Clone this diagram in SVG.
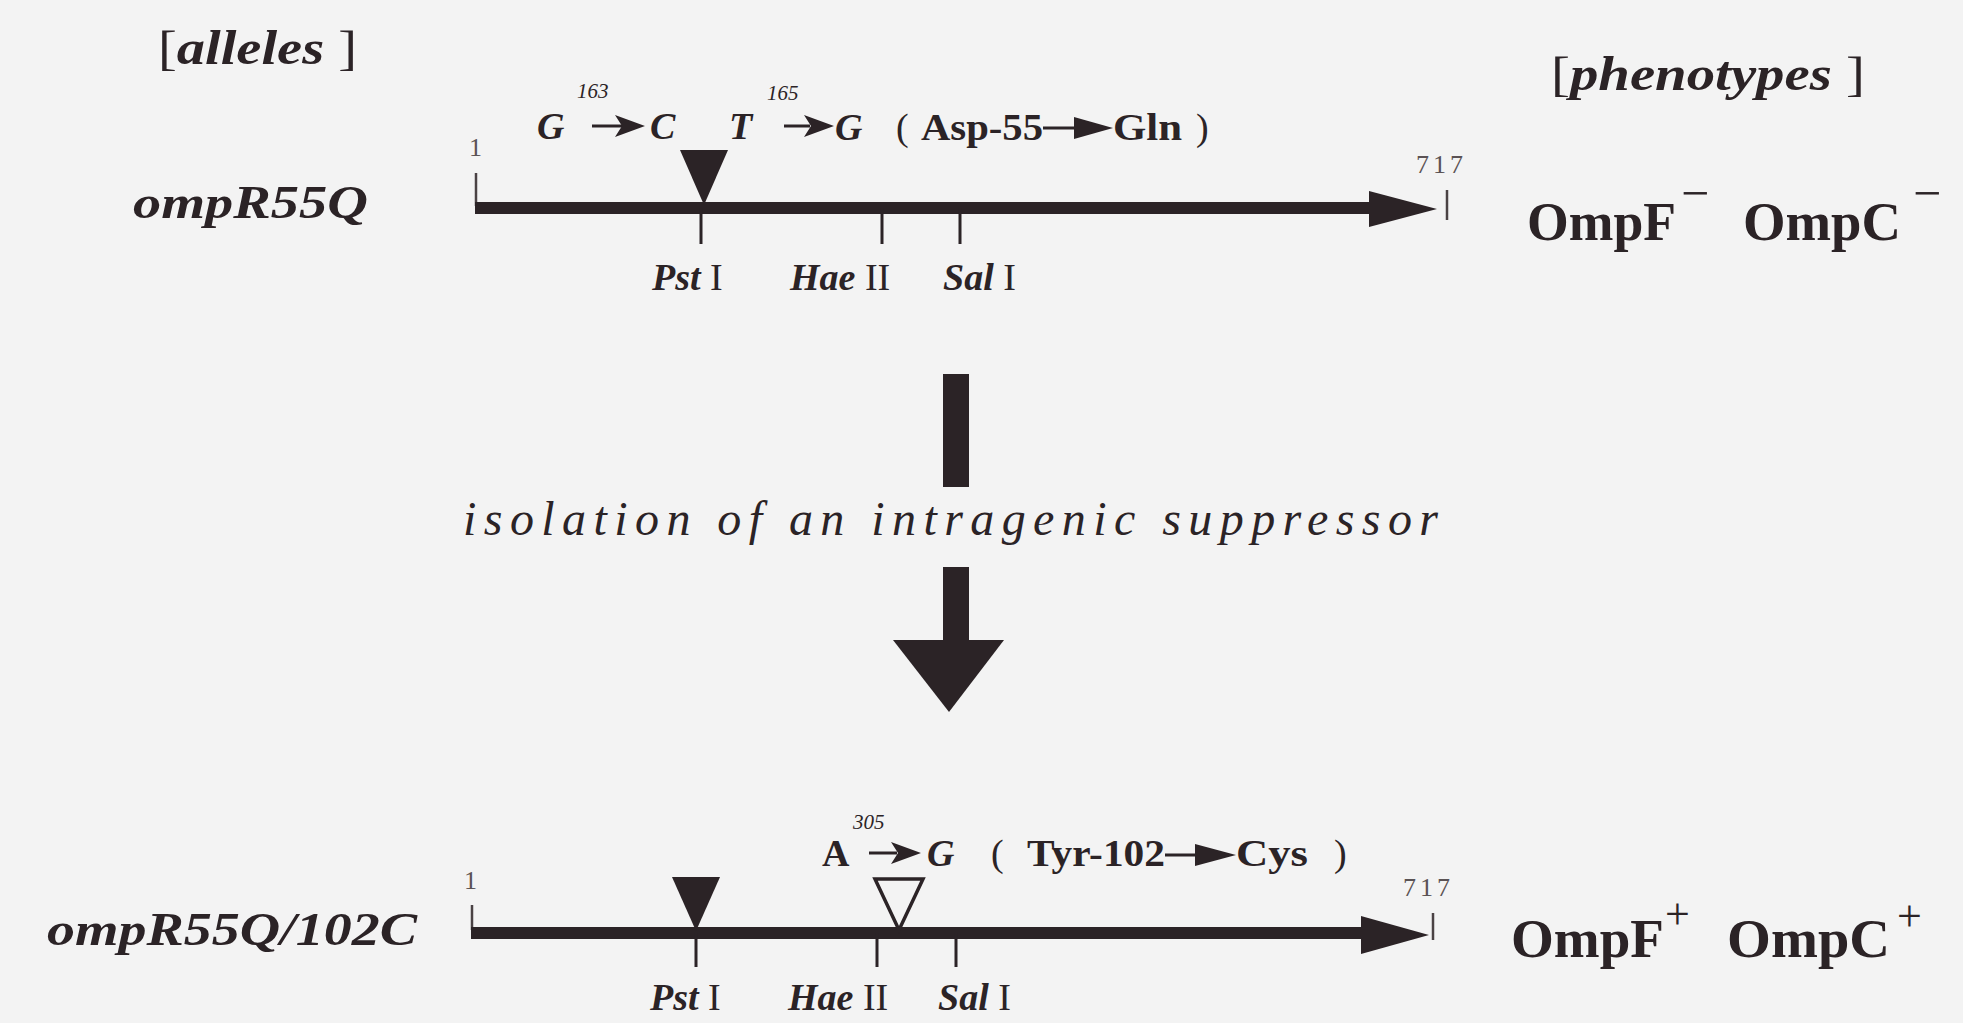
<svg xmlns="http://www.w3.org/2000/svg" width="1963" height="1023" viewBox="0 0 1963 1023">
<defs>
<style>
.bg{fill:#f3f3f3}
.ink{fill:#2b2326}
.ser{font-family:"Liberation Serif","Times New Roman",serif;fill:#2b2326}
.it{font-style:italic}
.b{font-weight:bold}
.num{font-family:"Liberation Serif",serif;font-size:26px;fill:#5a5254;letter-spacing:4px}
.sup{font-family:"Liberation Serif",serif;font-style:italic;font-size:21px;fill:#2b2326}
.mut{font-size:38px}
.site{font-size:38px}
.ph{font-size:55px;font-weight:bold}
.tick{stroke:#2b2326;stroke-width:3;fill:none}
.thin{stroke:#4a4244;stroke-width:2.5;fill:none}
</style>
</defs>
<rect class="bg" x="0" y="0" width="1963" height="1023"/>

<g id="headers">
<text class="ser" x="158" y="64" font-size="48" textLength="199" lengthAdjust="spacingAndGlyphs">[<tspan class="it b">alleles</tspan> ]</text>
<text class="ser" x="1551" y="90" font-size="48" textLength="314" lengthAdjust="spacingAndGlyphs">[<tspan class="it b">phenotypes</tspan> ]</text>
</g>

<g id="allele1">
<text class="ser it b" x="133" y="218" font-size="46" textLength="235" lengthAdjust="spacingAndGlyphs">ompR55Q</text>
<text class="num" x="469" y="156">1</text>
<line class="thin" x1="476" y1="173" x2="476" y2="206"/>
<rect class="ink" x="475" y="202" width="896" height="12"/>
<polygon class="ink" points="1369,191 1437,209 1369,227"/>
<line class="thin" x1="1447" y1="190" x2="1447" y2="220"/>
<text class="num" x="1416" y="173">717</text>
<polygon class="ink" points="680,150 728,150 704,205"/>
<line class="tick" x1="701" y1="208" x2="701" y2="244"/>
<line class="tick" x1="882" y1="208" x2="882" y2="244"/>
<line class="tick" x1="960" y1="208" x2="960" y2="244"/>
<text class="ser site" y="290"><tspan x="652" class="it b">Pst</tspan><tspan> I</tspan></text>
<text class="ser site" y="290"><tspan x="790" class="it b">Hae</tspan><tspan> II</tspan></text>
<text class="ser site" y="290"><tspan x="943" class="it b">Sal</tspan><tspan> I</tspan></text>
<text class="ser mut it b" x="537" y="139">G</text>
<text class="sup" x="577" y="98">163</text>
<line class="tick" x1="592" y1="126" x2="622" y2="126"/>
<polygon class="ink" points="615,115 645,126 615,137 622,126"/>
<text class="ser mut it b" x="650" y="139">C</text>
<text class="ser mut it b" x="729" y="139">T</text>
<text class="sup" x="767" y="100">165</text>
<line class="tick" x1="784" y1="126" x2="810" y2="126"/>
<polygon class="ink" points="804,115 834,126 804,137 811,126"/>
<text class="ser mut it b" x="835" y="140">G</text>
<text class="ser mut" x="896" y="140">(</text>
<text class="ser mut b" x="921" y="140" textLength="122" lengthAdjust="spacingAndGlyphs">Asp-55</text>
<line class="tick" x1="1043" y1="128" x2="1085" y2="128"/>
<polygon class="ink" points="1074,117 1113,128 1074,139"/>
<text class="ser mut b" x="1113" y="140" textLength="69" lengthAdjust="spacingAndGlyphs">Gln</text>
<text class="ser mut" x="1196" y="140">)</text>
<text class="ser ph" x="1527" y="240" textLength="149" lengthAdjust="spacingAndGlyphs">OmpF</text>
<text class="ser" x="1681" y="210" font-size="50">−</text>
<text class="ser ph" x="1743" y="240" textLength="158" lengthAdjust="spacingAndGlyphs">OmpC</text>
<text class="ser" x="1913" y="210" font-size="50">−</text>
</g>

<g id="connectors">
<rect class="ink" x="943" y="374" width="26" height="113"/>
<rect class="ink" x="943" y="567" width="26" height="78"/>
<polygon class="ink" points="893,640 1004,640 949,712"/>
</g>
<g id="step-label">
<text class="ser it" x="463" y="535" font-size="48" textLength="975" lengthAdjust="spacing">isolation of an intragenic suppressor</text>
</g>

<g id="allele2">
<text class="ser it b" x="47" y="945" font-size="46" textLength="370" lengthAdjust="spacingAndGlyphs">ompR55Q/102C</text>
<text class="num" x="464" y="889">1</text>
<line class="thin" x1="472" y1="905" x2="472" y2="930"/>
<rect class="ink" x="471" y="927" width="892" height="12"/>
<polygon class="ink" points="1361,916 1429,935 1361,954"/>
<line class="thin" x1="1433" y1="913" x2="1433" y2="940"/>
<text class="num" x="1403" y="896">717</text>
<polygon class="ink" points="672,877 720,877 696,931"/>
<polygon points="875,879 923,879 899,930" fill="none" stroke="#2b2326" stroke-width="3.5"/>
<line class="tick" x1="696" y1="933" x2="696" y2="967"/>
<line class="tick" x1="877" y1="933" x2="877" y2="967"/>
<line class="tick" x1="956" y1="933" x2="956" y2="967"/>
<text class="ser site" y="1010"><tspan x="650" class="it b">Pst</tspan><tspan> I</tspan></text>
<text class="ser site" y="1010"><tspan x="788" class="it b">Hae</tspan><tspan> II</tspan></text>
<text class="ser site" y="1010"><tspan x="938" class="it b">Sal</tspan><tspan> I</tspan></text>
<text class="sup" x="853" y="829">305</text>
<text class="ser mut b" x="822" y="866">A</text>
<line class="tick" x1="869" y1="853" x2="897" y2="853"/>
<polygon class="ink" points="891,842 921,853 891,864 898,853"/>
<text class="ser mut it b" x="927" y="866">G</text>
<text class="ser mut" x="991" y="866">(</text>
<text class="ser mut b" x="1027" y="866" textLength="138" lengthAdjust="spacingAndGlyphs">Tyr-102</text>
<line class="tick" x1="1165" y1="855" x2="1200" y2="855"/>
<polygon class="ink" points="1195,844 1236,855 1195,866"/>
<text class="ser mut b" x="1236" y="866" textLength="72" lengthAdjust="spacingAndGlyphs">Cys</text>
<text class="ser mut" x="1334" y="866">)</text>
<text class="ser ph" x="1511" y="957" textLength="153" lengthAdjust="spacingAndGlyphs">OmpF</text>
<text class="ser" x="1665" y="929" font-size="44">+</text>
<text class="ser ph" x="1727" y="957" textLength="163" lengthAdjust="spacingAndGlyphs">OmpC</text>
<text class="ser" x="1897" y="931" font-size="44">+</text>
</g>
</svg>
